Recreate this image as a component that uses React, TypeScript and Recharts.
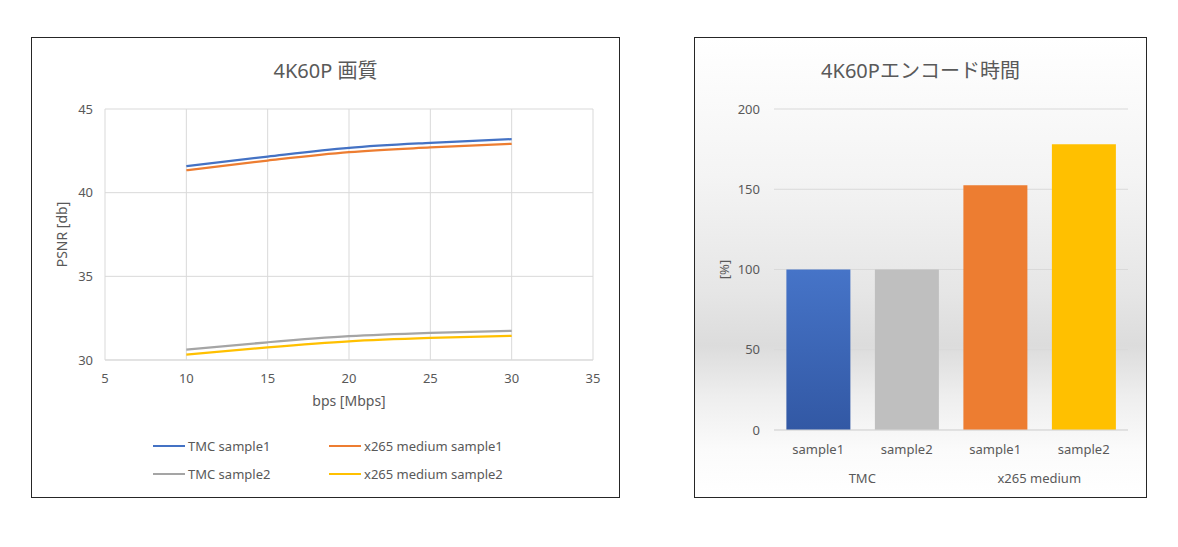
import {
  LineChart,
  Line,
  BarChart,
  Bar,
  Cell,
  XAxis,
  YAxis,
  CartesianGrid,
  Legend,
  Label,
} from 'recharts'

// bitrate [Mbps]
const bitrates = [10, 15, 20, 25, 30]
// PSNR [db]
const tmcSample1 = [41.58, 42.16, 42.68, 42.98, 43.2]
const x265Sample1 = [41.34, 41.92, 42.42, 42.7, 42.92]
const tmcSample2 = [30.62, 31.06, 31.42, 31.62, 31.74]
const x265Sample2 = [30.32, 30.76, 31.12, 31.32, 31.44]

const xTicks = [5, 10, 15, 20, 25, 30, 35]
const yTicks = [30, 35, 40, 45]

// encode time [%]
const barLabels = ['sample1', 'sample2', 'sample1', 'sample2']
const barGroups = ['TMC', 'TMC', 'x265 medium', 'x265 medium']
const encodeTime = [100, 100, 152.5, 178]
const barColors = ['url(#blueGrad)', '#bfbfbf', '#ed7d31', '#ffc000']
const barTicks = [0, 50, 100, 150, 200]

const lineSeries = [
  { key: 'tmc1', name: 'TMC sample1', color: '#4472c4', values: tmcSample1 },
  { key: 'x2651', name: 'x265 medium sample1', color: '#ed7d31', values: x265Sample1 },
  { key: 'tmc2', name: 'TMC sample2', color: '#a5a5a5', values: tmcSample2 },
  { key: 'x2652', name: 'x265 medium sample2', color: '#ffc000', values: x265Sample2 },
]

const lineData = bitrates.map((b, i) => {
  const row: any = { bps: b }
  lineSeries.forEach((s) => (row[s.key] = s.values[i]))
  return row
})

const barData = barLabels.map((l, i) => ({ label: l, group: barGroups[i], value: encodeTime[i] }))

const FONT = '"Segoe UI", "Noto Sans", "Noto Sans CJK JP", sans-serif'
const TEXT = '#595959'
const GRID = '#d9d9d9'

// legend laid out row by row in series order (Excel style)
function LineLegend() {
  return (
    <div style={{ display: 'grid', gridTemplateColumns: '176px 200px', rowGap: 10, marginLeft: 102 }}>
      {lineSeries.map((s) => (
        <div key={s.key} style={{ display: 'flex', alignItems: 'center', fontSize: 13, color: TEXT, fontFamily: FONT }}>
          <span style={{ display: 'inline-block', width: 32, height: 2.5, background: s.color, marginRight: 3 }} />
          {s.name}
        </div>
      ))}
    </div>
  )
}

function BarTick({ x, y, payload, index }: any) {
  const group = barGroups[index]
  return (
    <g>
      <text x={x} y={y + 16} textAnchor="middle" fill={TEXT} fontSize={13} fontFamily={FONT}>
        {payload.value}
      </text>
      {index % 2 === 0 && (
        <text x={x + 44} y={y + 45} textAnchor="middle" fill={TEXT} fontSize={13} fontFamily={FONT}>
          {group}
        </text>
      )}
    </g>
  )
}

export default function App() {
  return (
    <div style={{ position: 'absolute', left: 0, top: 0, width: 1178, height: 547, background: '#fff' }}>
      <div
        style={{
          position: 'absolute', left: 31, top: 37, width: 589, height: 461,
          border: '1px solid #262626', boxSizing: 'border-box', background: '#fff',
        }}
      >
        <div style={{ position: 'absolute', top: 17, width: '100%', textAlign: 'center', fontSize: 20, color: TEXT, fontFamily: FONT }}>
          4K60P 画質
        </div>
        <LineChart width={587} height={459} data={lineData} margin={{ top: 71, right: 26, bottom: 61, left: 19 }}>
          <CartesianGrid stroke={GRID} />
          <XAxis
            type="number"
            dataKey="bps"
            domain={[5, 35]}
            ticks={xTicks}
            stroke={GRID}
            tickLine={false}
            tickSize={6}
            tickMargin={8}
            height={30}
            tick={{ fill: TEXT, fontSize: 13, fontFamily: FONT }}
          >
            <Label value="bps [Mbps]" position="bottom" offset={6} fill={TEXT} fontSize={14} fontFamily={FONT} />
          </XAxis>
          <YAxis
            domain={[30, 45]}
            ticks={yTicks}
            axisLine={false}
            tickLine={false}
            tickSize={6}
            tickMargin={6}
            width={54}
            tick={{ fill: TEXT, fontSize: 13, fontFamily: FONT }}
          >
            <Label
              value="PSNR [db]"
              angle={-90}
              position="insideLeft"
              offset={11}
              fill={TEXT}
              fontSize={14}
              fontFamily={FONT}
              style={{ textAnchor: 'middle' }}
            />
          </YAxis>
          <Legend verticalAlign="bottom" content={<LineLegend />} wrapperStyle={{ bottom: 14 }} />
          {lineSeries.map((s) => (
            <Line
              key={s.key}
              type="monotone"
              dataKey={s.key}
              name={s.name}
              stroke={s.color}
              strokeWidth={2.25}
              dot={false}
              isAnimationActive={false}
            />
          ))}
        </LineChart>
      </div>

      <div
        style={{
          position: 'absolute', left: 694, top: 37, width: 453, height: 461,
          border: '1px solid #262626', boxSizing: 'border-box',
          background: 'linear-gradient(to bottom, #ffffff 0%, #f4f4f4 30%, #e6e6e6 55%, #dcdcdc 67%, #eeeeee 78%, #fbfbfb 90%, #ffffff 100%)',
        }}
      >
        <div style={{ position: 'absolute', top: 17, width: '100%', textAlign: 'center', fontSize: 20, color: TEXT, fontFamily: FONT }}>
          4K60Pエンコード時間
        </div>
        <BarChart width={451} height={459} data={barData} margin={{ top: 71, right: 18, bottom: 37, left: 25 }} barCategoryGap="14%">
          <defs>
            <linearGradient id="blueGrad" x1="0" y1="0" x2="0" y2="1">
              <stop offset="0%" stopColor="#4674c8" />
              <stop offset="100%" stopColor="#3258a4" />
            </linearGradient>
          </defs>
          <CartesianGrid stroke={GRID} vertical={false} />
          <XAxis
            dataKey="label"
            stroke={GRID}
            tickLine={false}
            height={30}
            tick={<BarTick />}
            interval={0}
          />
          <YAxis
            domain={[0, 200]}
            ticks={barTicks}
            axisLine={false}
            tickLine={false}
            tickSize={6}
            tickMargin={8}
            width={54}
            tick={{ fill: TEXT, fontSize: 13, fontFamily: FONT }}
          >
            <Label
              value="[%]"
              angle={-90}
              position="insideLeft"
              offset={4}
              fill={TEXT}
              fontSize={13}
              fontFamily={FONT}
              style={{ textAnchor: 'middle' }}
            />
          </YAxis>
          <Bar dataKey="value" isAnimationActive={false}>
            {barData.map((d, i) => (
              <Cell key={i} fill={barColors[i]} />
            ))}
          </Bar>
        </BarChart>
      </div>
    </div>
  )
}
